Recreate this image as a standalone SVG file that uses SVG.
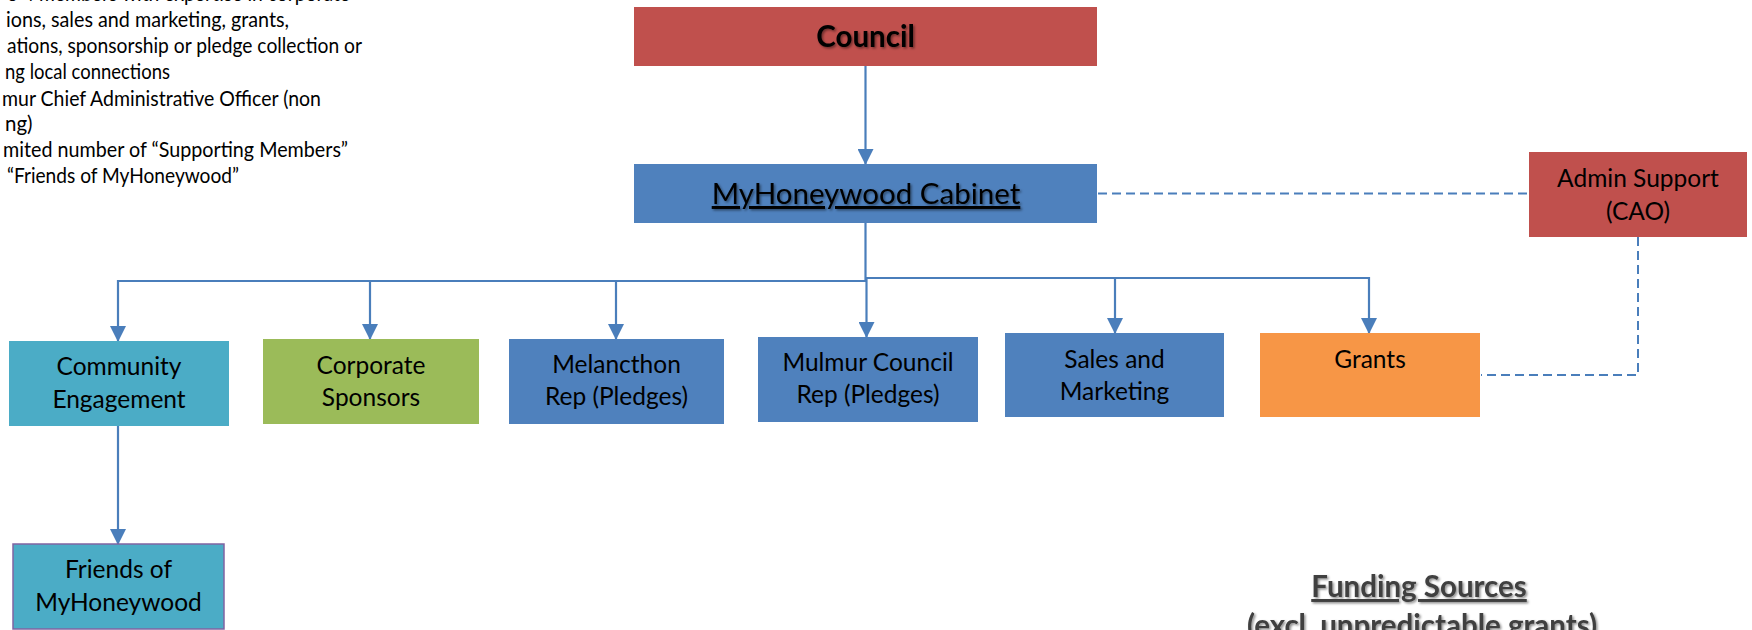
<svg xmlns="http://www.w3.org/2000/svg" width="1752" height="630" viewBox="0 0 1752 630">
<style>
.t{font-family:Lato,"Liberation Sans",sans-serif;fill:#000;}
.box{font-size:24.5px;text-anchor:middle;}
.note{font-size:20.5px;}
.blue{fill:#4F81BD;}
.red{fill:#C0504D;}
.teal{fill:#4BACC6;}
.green{fill:#9BBB59;}
.orange{fill:#F79646;}
.conn{stroke:#4A7EBB;stroke-width:2.2;fill:none;}
.dash{stroke:#4A7EBB;stroke-width:2;fill:none;stroke-dasharray:9 5;}
</style>
<defs>
<marker id="arr" markerUnits="userSpaceOnUse" markerWidth="16" markerHeight="16" viewBox="0 0 16 16" refX="15" refY="8" orient="auto">
<path d="M0,0 L16,8 L0,16 Z" fill="#4A7EBB"/>
</marker>
<filter id="sh" x="-10%" y="-30%" width="120%" height="160%">
<feDropShadow dx="1.5" dy="1.5" stdDeviation="1" flood-color="#000" flood-opacity="0.45"/>
</filter>
</defs>

<g id="notes" class="t note">
<text x="7" y="1" textLength="343" lengthAdjust="spacingAndGlyphs">o  4 members with expertise in corporate</text>
<text x="6" y="27" textLength="283" lengthAdjust="spacingAndGlyphs">ions, sales and marketing, grants,</text>
<text x="7" y="53" textLength="355" lengthAdjust="spacingAndGlyphs">ations, sponsorship or pledge collection or</text>
<text x="5" y="79" textLength="165" lengthAdjust="spacingAndGlyphs">ng local connections</text>
<text x="2" y="106" textLength="319" lengthAdjust="spacingAndGlyphs">mur Chief Administrative Officer (non</text>
<text x="5" y="131">ng)</text>
<text x="3" y="157" textLength="345" lengthAdjust="spacingAndGlyphs">mited number of “Supporting Members”</text>
<text x="7" y="183" textLength="232" lengthAdjust="spacingAndGlyphs">“Friends of MyHoneywood”</text>
</g>

<g id="connectors">
<line class="conn" x1="865.5" y1="66" x2="865.5" y2="164" marker-end="url(#arr)"/>
<polyline class="conn" points="865.5,223 865.5,281 118,281 118,341" marker-end="url(#arr)"/>
<polyline class="conn" points="370,281 370,339" marker-end="url(#arr)"/>
<polyline class="conn" points="616,281 616,339" marker-end="url(#arr)"/>
<polyline class="conn" points="866.5,278 866.5,337" marker-end="url(#arr)"/>
<polyline class="conn" points="865.5,278 1369,278 1369,333" marker-end="url(#arr)"/>
<polyline class="conn" points="1115,278 1115,333" marker-end="url(#arr)"/>
<line class="conn" x1="118" y1="426" x2="118" y2="544" marker-end="url(#arr)"/>
<line class="dash" x1="1098" y1="193.5" x2="1528" y2="193.5"/>
<polyline class="dash" points="1638,237 1638,375 1481,375"/>
</g>

<g id="council">
<rect class="red" x="634" y="7" width="463" height="59"/>
<text class="t" x="865.5" y="47" font-size="29.5" font-weight="bold" text-anchor="middle" filter="url(#sh)">Council</text>
</g>

<g id="cabinet">
<rect class="blue" x="634" y="164" width="463" height="59"/>
<text class="t" x="866" y="204" font-size="29.5" text-anchor="middle" text-decoration="underline" filter="url(#sh)">MyHoneywood Cabinet</text>
</g>

<g id="admin">
<rect class="red" x="1529" y="152" width="218" height="85"/>
<text class="t box" x="1638" y="187">Admin Support</text>
<text class="t box" x="1638" y="220">(CAO)</text>
</g>

<g id="community">
<rect class="teal" x="9" y="341" width="220" height="85"/>
<text class="t box" x="119" y="375">Community</text>
<text class="t box" x="119" y="408">Engagement</text>
</g>

<g id="corporate">
<rect class="green" x="263" y="339" width="216" height="85"/>
<text class="t box" x="371" y="374">Corporate</text>
<text class="t box" x="371" y="406">Sponsors</text>
</g>

<g id="melancthon">
<rect class="blue" x="509" y="339" width="215" height="85"/>
<text class="t box" x="616.5" y="373">Melancthon</text>
<text class="t box" x="616.5" y="405">Rep (Pledges)</text>
</g>

<g id="mulmur">
<rect class="blue" x="758" y="337" width="220" height="85"/>
<text class="t box" x="868" y="371">Mulmur Council</text>
<text class="t box" x="868" y="403">Rep (Pledges)</text>
</g>

<g id="sales">
<rect class="blue" x="1005" y="333" width="219" height="84"/>
<text class="t box" x="1114.5" y="368">Sales and</text>
<text class="t box" x="1114.5" y="400">Marketing</text>
</g>

<g id="grants">
<rect class="orange" x="1260" y="333" width="220" height="84"/>
<text class="t box" x="1370" y="368">Grants</text>
</g>

<g id="friends">
<rect class="teal" x="13" y="544" width="211" height="85" stroke="#8064A2" stroke-width="1.5"/>
<text class="t box" x="118.5" y="578">Friends of</text>
<text class="t box" x="118.5" y="611">MyHoneywood</text>
</g>

<g id="funding">
<text class="t" x="1419" y="597" font-size="29.5" font-weight="bold" text-anchor="middle" text-decoration="underline" style="fill:#404040" filter="url(#sh)">Funding Sources</text>
<text class="t" x="1422" y="636" font-size="29.5" font-weight="bold" text-anchor="middle" style="fill:#404040" filter="url(#sh)">(excl. unpredictable  grants)</text>
</g>
</svg>
